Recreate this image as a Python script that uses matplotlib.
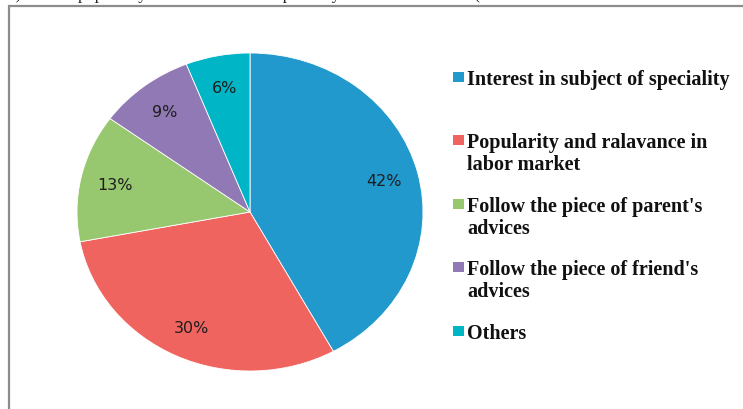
import matplotlib
matplotlib.use("Agg")
import matplotlib.pyplot as plt
from matplotlib.patches import Rectangle

# data
categories = [
    "Interest in subject of speciality",
    "Popularity and ralavance in\nlabor market",
    "Follow the piece of parent's\nadvices",
    "Follow the piece of friend's\nadvices",
    "Others",
]
shares = [42, 30, 13, 9, 6]
colors = ["#2199cc", "#f0645f", "#97c76f", "#9079b4", "#00b5c5"]
caption = "ve) and the popularity and relevance of a speciality in the labor market ("

W, H, DPI = 743, 410, 100
fig = plt.figure(figsize=(W / DPI, H / DPI), dpi=DPI)

# frame of the chart area (runs past the right and bottom edge)
fig.patches.append(Rectangle((9 / W, -0.1), 1.2, 1.1 - 7 / H, transform=fig.transFigure,
                             fill=False, edgecolor="#8c8c8c", linewidth=1.6))

# caption line cut off at the top
fig.text(0.0, 1 + 1.0 / H, caption, ha="left", va="baseline",
         family="Liberation Serif", fontsize=12, color="#222222")

cx, cy, rx, ry = 250, 213, 173, 159
ax = fig.add_axes([(cx - rx) / W, (H - cy - ry) / H, 2 * rx / W, 2 * ry / H])
wedges, texts, autotexts = ax.pie(
    shares, colors=colors, startangle=90, counterclock=False,
    autopct="%d%%", pctdistance=0.8,
    wedgeprops=dict(edgecolor="white", linewidth=0.6),
    textprops=dict(fontsize=11.5, color="#1e1e1e", family="DejaVu Sans"),
)
ax.set_aspect("auto")
ax.set_xlim(-1, 1)
ax.set_ylim(-1, 1)

# legend drawn by hand: one baseline per text line, swatch beside the first line
base_y = [85, 148, 212, 275, 339]
line_gap = 22
for lab, col, y in zip(categories, colors, base_y):
    fig.patches.append(Rectangle((453 / W, 1 - (y - 2) / H), 11 / W, 10 / H,
                                 transform=fig.transFigure, facecolor=col, edgecolor="none"))
    for i, part in enumerate(lab.split("\n")):
        fig.text(467 / W, 1 - (y + i * line_gap) / H, part, ha="left", va="baseline",
                 family="Liberation Serif", fontweight="bold", fontsize=14.5,
                 color="#111111")

fig.savefig("out.png", dpi=DPI)
